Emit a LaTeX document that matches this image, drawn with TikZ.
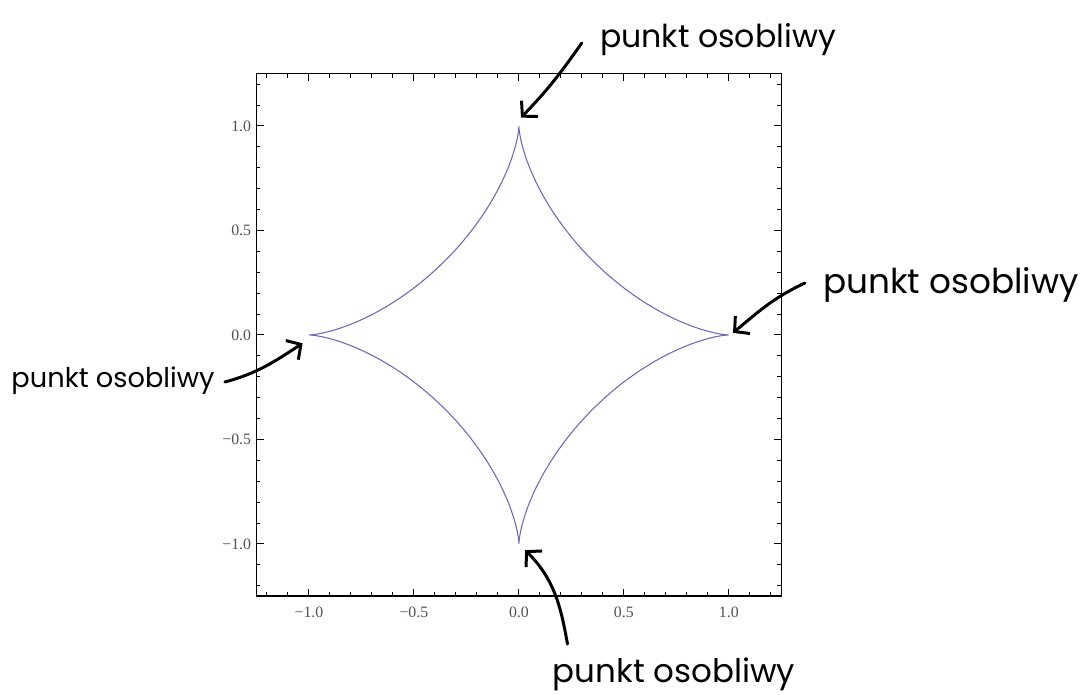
\documentclass[tikz,border=0pt]{standalone}
\usepackage{fontspec}
\setmainfont{Liberation Serif}
\newfontfamily\handfont{Poppins}
\usetikzlibrary{arrows.meta}
\definecolor{AstroidBlue}{RGB}{105,105,180}
\definecolor{TickGray}{RGB}{85,78,78}

\begin{document}
\begin{tikzpicture}[x=0.02cm, y=-0.02cm, frame/.style={draw=black,line width=0.75pt}, tickmark/.style={line width=0.55pt}, ticklabel/.style={font=\fontsize{9}{10}\selectfont,text=TickGray,inner sep=0pt}, curve/.style={draw=AstroidBlue,line width=0.6pt,line join=miter}, note/.style={font=\handfont\fontsize{#1}{#1}\selectfont,inner sep=0pt}, note/.default=18, pointer/.style={-{Straight Barb[length=6pt,width=13pt]},line width=1.7pt,line cap=round}]
\useasboundingbox (0,0) rectangle (1086,694);
\begin{scope}[shift={(10.38cm,-6.7cm)}, x=4.2cm, y=4.18cm]
\draw[frame] (-1.25,-1.25) rectangle (1.25,1.25);
\foreach \i in {-12,...,12}{
  \draw[tickmark] (\i/10,-1.25) -- ++(0,0.08cm);
  \draw[tickmark] (\i/10,1.25) -- ++(0,-0.08cm);
  \draw[tickmark] (-1.25,\i/10) -- ++(0.08cm,0);
  \draw[tickmark] (1.25,\i/10) -- ++(-0.08cm,0);
}
\foreach \v/\t [count=\k] in {-1/{−1.0},-0.5/{−0.5},0/{0.0},0.5/{0.5},1/{1.0}}{
  \draw[tickmark] (\v,-1.25) -- ++(0,0.15cm);
  \draw[tickmark] (\v,1.25) -- ++(0,-0.15cm);
  \draw[tickmark] (-1.25,\v) -- ++(0.15cm,0);
  \draw[tickmark] (1.25,\v) -- ++(-0.15cm,0);
  \node[ticklabel,anchor=east] (ylab\k) at ([xshift=-0.1cm]-1.25,\v) {\t};
  \node[ticklabel,anchor=north] (xlab\k) at ([yshift=-0.2cm]\v,-1.25) {\t};
}
\draw[curve] plot[domain=0:360, samples=361, variable=\t] ({cos(\t)*cos(\t)*cos(\t)},{sin(\t)*sin(\t)*sin(\t)});
\coordinate (tipN) at (0.01,1.04);
\coordinate (tipE) at (1.02,0.01);
\coordinate (tipW) at (-1.03,-0.04);
\coordinate (tipS) at (0.03,-1.03);
\end{scope}
\node[note] (noteN) at (718,40) {punkt osobliwy};
\node[note=19.5] (noteE) at (951,285) {punkt osobliwy};
\node[note=15.5] (noteW) at (113,381) {punkt osobliwy};
\node[note=18.5] (noteS) at (674,674) {punkt osobliwy};
\draw[pointer] ([shift={(-18,3)}]noteN.west) to[out=235,in=46] (tipN);
\draw[pointer] ([shift={(-18,-2)}]noteE.west) to[out=205,in=40] (tipE);
\draw[pointer] ([shift={(10,1)}]noteW.east) to[out=15,in=213] (tipW);
\draw[pointer] ([shift={(15,-13)}]noteS.north west) to[out=100,in=-45] (tipS);
\end{tikzpicture}
\end{document}
